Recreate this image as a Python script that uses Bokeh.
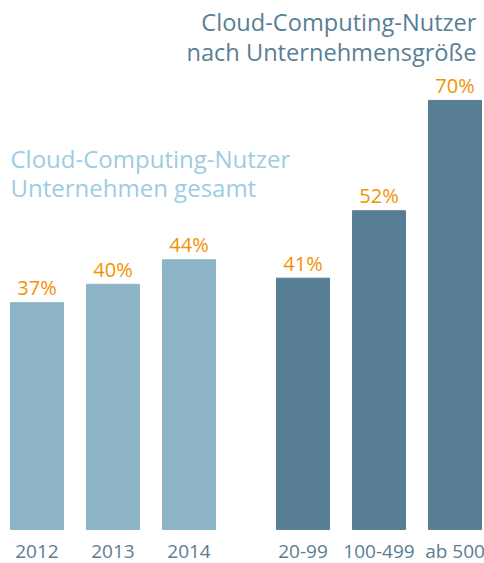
from bokeh.plotting import figure
from bokeh.models import ColumnDataSource, Range1d, Label
from bokeh.core.properties import value
from bokeh.embed import file_html
from bokeh.resources import INLINE

# ---- data ----
categories = ["2012", "2013", "2014", "20-99", "100-499", "ab 500"]
groups = [0, 0, 0, 1, 1, 1]
values = [37, 40, 44, 41, 52, 70]
value_labels = ["37%", "40%", "44%", "41%", "52%", "70%"]
title_total = ["Cloud-Computing-Nutzer", "Unternehmen gesamt"]
title_size = ["Cloud-Computing-Nutzer", "nach Unternehmensgröße"]

# ---- styles ----
FONT = "Open Sans"
group_colors = ["#8cb3c6", "#577e94"]
label_color = "#f39200"
tick_color = "#5a7d92"
title_colors = ["#9dcce3", "#587f96"]

xs = [i + 0.5 * g for i, g in enumerate(groups)]
src = ColumnDataSource(dict(
    x=xs,
    top=values,
    zero=[0] * len(xs),
    color=[group_colors[g] for g in groups],
    lab=value_labels,
    cat=categories,
))

p = figure(width=484, height=563, output_backend="svg", toolbar_location=None,
           x_range=Range1d(-0.48, 5.888), y_range=Range1d(-5.55, 86.3),
           x_axis_location=None, y_axis_location=None,
           min_border_left=0, min_border_right=0, min_border_top=0, min_border_bottom=0)
p.outline_line_color = None
p.background_fill_color = "white"
p.border_fill_color = "white"
p.grid.visible = False

p.vbar(x="x", top="top", bottom=0, width=0.697, color="color", source=src)
p.text(x="x", y="top", text="lab", source=src, text_align="center",
       text_baseline="alphabetic", y_offset=-15, text_color=label_color,
       text_font=value(FONT), text_font_size="20px")
# category labels under the bars
p.text(x="x", y="zero", text="cat", source=src, text_align="center",
       text_baseline="alphabetic", y_offset=22, text_color=tick_color,
       text_font=value(FONT), text_font_size="19px")

for i, line in enumerate(title_total):
    p.add_layout(Label(x=10, y=405 - 29 * i, x_units="screen", y_units="screen",
                       text=line, text_font=FONT, text_font_size="24px",
                       text_color=title_colors[0], text_align="left",
                       text_baseline="alphabetic"))
for i, line in enumerate(title_size):
    p.add_layout(Label(x=476, y=542 - 30 * i, x_units="screen", y_units="screen",
                       text=line, text_font=FONT, text_font_size="23.6px",
                       text_color=title_colors[1], text_align="right",
                       text_baseline="alphabetic"))

open("out.html", "w").write(file_html(p, INLINE))
